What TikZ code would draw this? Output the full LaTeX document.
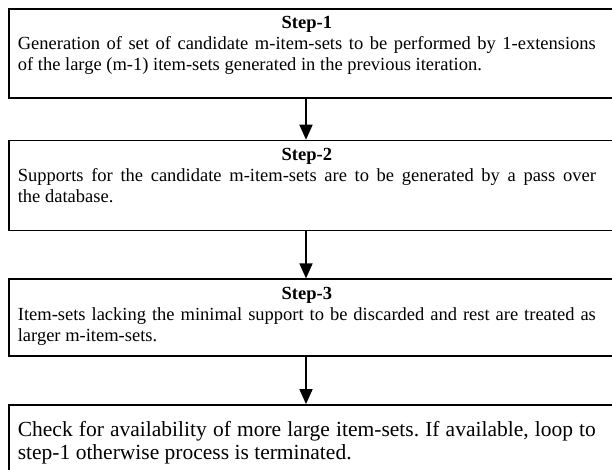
\documentclass[tikz,border=0pt]{standalone}
\usepackage{fontspec}
\setmainfont{Liberation Serif}
\usetikzlibrary{arrows.meta, positioning}

% box text: heading centred, body justified, right part of box left empty;
% struts set the room above the first line and below the last one
\newcommand{\steptext}[3]{\frenchspacing\rightskip=25bp
  {\leftskip=0pt plus 1fil\rightskip=25bp plus 1fil\parfillskip=0pt\rule{0pt}{15bp}\textbf{#1}\par}%
  #2\rule[-#3]{0pt}{0pt}\par}
\newcommand{\lasttext}[1]{\frenchspacing\rightskip=25bp\rule{0pt}{27bp}#1\rule[-60bp]{0pt}{0pt}\par}

\begin{document}
\begin{tikzpicture}[
  x=1bp, y=-1bp,
  >={Triangle[length=15bp, width=13bp]},
  stepbox/.style={
    draw, line width=1.7bp, anchor=north west, text width=603bp, align=justify,
    inner xsep=9bp, inner ysep=5bp,
    font=\fontsize{18.5bp}{21bp}\selectfont
  },
  lastbox/.style={stepbox, font=\fontsize{21.5bp}{22.5bp}\selectfont},
  arr/.style={->, line width=1.7bp},
]

\useasboundingbox (0,0) rectangle (612,470);
\clip (0,0) rectangle (612,470);

% =============================================
% Step boxes
% =============================================
\node[stepbox] (s1) at (8,8)
  {\steptext{Step-1}{Generation of set of candidate m-item-sets to be performed by 1-extensions\linebreak
   of the large (m-1) item-sets generated in the previous iteration.}{22bp}};

\node[stepbox, below=41bp of s1] (s2)
  {\steptext{Step-2}{Supports for the candidate m-item-sets are to be generated by a pass over\linebreak
   the database.}{23bp}};

\node[stepbox, below=47bp of s2] (s3)
  {\steptext{Step-3}{Item-sets lacking the minimal support to be discarded and rest are treated as\linebreak
   larger m-item-sets.}{10bp}};

\node[lastbox, below=47bp of s3] (s4)
  {\lasttext{Check for availability of more large item-sets. If available, loop to\linebreak
   step-1 otherwise process is terminated.}};

% =============================================
% Arrows between boxes
% =============================================
\coordinate (ax) at (306,0);
\draw[arr] (s1.south -| ax) -- (s2.north -| ax);
\draw[arr] (s2.south -| ax) -- (s3.north -| ax);
\draw[arr] (s3.south -| ax) -- (s4.north -| ax);

\end{tikzpicture}
\end{document}
